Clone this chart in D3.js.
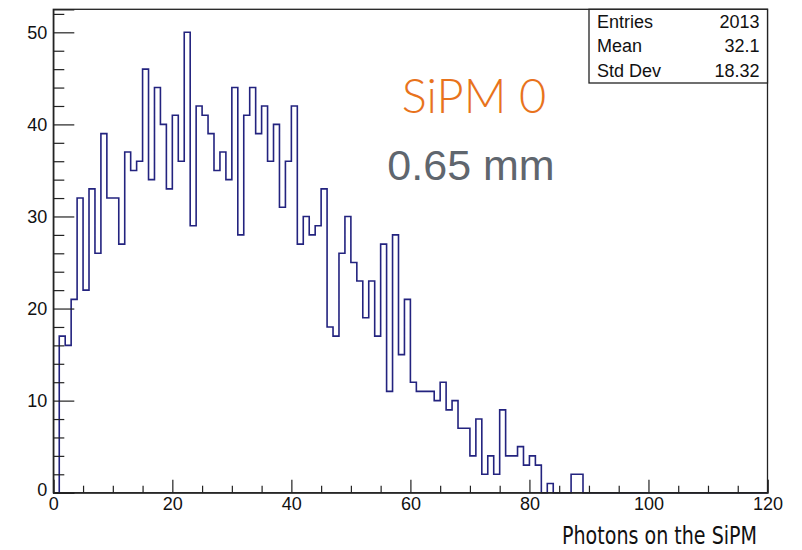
<!DOCTYPE html>
<html>
<head>
<meta charset="utf-8">
<script src="https://cdn.jsdelivr.net/npm/d3@7"></script>
<style>
  body { margin: 0; background: #fff; }
  svg { display: block; }
</style>
</head>
<body>
<script>
// bin contents, one per unit bin starting at 0
const counts = [0,
  17, 16, 21, 32, 22, 33, 26, 39, 32, 32,
  27, 37, 35, 36, 46, 34, 44, 40, 33, 41,
  36, 50, 29, 42, 41, 39, 35, 37, 34, 44,
  28, 41, 44, 39, 42, 36, 40, 31, 36, 42,
  27, 30, 28, 29, 33, 18, 17, 26, 30, 25,
  23, 19, 23, 17, 27, 11, 28, 15, 21, 12,
  11, 11, 11, 10, 12, 9, 10, 7, 7, 4,
  8, 2, 4, 2, 9, 4, 4, 5, 3, 4,
  3, 0, 1, 0, 0, 0, 2, 2];
const xTicks = [0, 20, 40, 60, 80, 100, 120];
const yTicks = [0, 10, 20, 30, 40, 50];
const statsLabels = ["Entries", "Mean", "Std Dev"];
const statsValues = ["2013", "32.1", "18.32"];

const w = 802;
const h = 550;
const padL = 53.3, padR = 767.5, padT = 9.3, padB = 492.7;

const svg = d3.select("body").append("svg").attr("width", w).attr("height", h);

const xScale = d3.scaleLinear().domain([0, 120]).range([padL, padR]);
const yScale = d3.scaleLinear().domain([0, 52.5]).range([padB, padT]);

// histogram outline
const pts = counts.map((c, i) => [i, c]);
pts.push([counts.length, 0]);
pts.push([120, 0]);
const line = d3.line()
  .x((d) => xScale(d[0]))
  .y((d) => yScale(d[1]))
  .curve(d3.curveStepAfter);

svg.append("path")
  .datum(pts)
  .attr("d", line)
  .attr("fill", "none")
  .attr("stroke", "#23237f")
  .attr("stroke-width", 1.6);

// frame
svg.append("rect")
  .attr("x", padL).attr("y", padT)
  .attr("width", padR - padL).attr("height", padB - padT)
  .attr("fill", "none").attr("stroke", "#222").attr("stroke-width", 1.3);

const font = "'Liberation Sans', Arial, sans-serif";

// x axis
const xMinor = d3.range(0, 121, 5).filter((v) => v % 20 !== 0);
svg.append("g")
  .attr("transform", `translate(0, ${padB})`)
  .call(d3.axisBottom(xScale).tickValues(xMinor).tickSize(-7).tickFormat(""))
  .call((g) => g.select(".domain").remove());
const xAxis = svg.append("g")
  .attr("id", "x-axis")
  .attr("transform", `translate(0, ${padB})`)
  .call(d3.axisBottom(xScale).tickValues(xTicks).tickSize(-13).tickPadding(5).tickFormat(d3.format("d")));
xAxis.select(".domain").attr("stroke", "#222").attr("stroke-width", 1.3);
xAxis.selectAll("text").style("font-family", font).style("font-size", "18px").attr("fill", "#111");

// y axis
const yMinor = d3.range(0, 53, 2).filter((v) => v % 10 !== 0);
svg.append("g")
  .attr("transform", `translate(${padL}, 0)`)
  .call(d3.axisLeft(yScale).tickValues(yMinor).tickSize(-11).tickFormat(""))
  .call((g) => g.select(".domain").remove());
const yAxis = svg.append("g")
  .attr("id", "y-axis")
  .attr("transform", `translate(${padL}, 0)`)
  .call(d3.axisLeft(yScale).tickValues(yTicks).tickSize(-21).tickPadding(6).tickFormat(d3.format("d")));
yAxis.select(".domain").attr("stroke", "#222").attr("stroke-width", 1.3);
yAxis.selectAll("text").style("font-family", font).style("font-size", "18px").attr("fill", "#111");
yAxis.selectAll(".tick").filter((d) => d === 0).select("text").attr("y", -3);

svg.selectAll(".tick line").attr("stroke", "#222").attr("stroke-width", 1.2);

// stats box
const sb = { x: 589, y: padT, w: padR - 589, h: 83 - padT };
svg.append("rect")
  .attr("x", sb.x).attr("y", sb.y).attr("width", sb.w).attr("height", sb.h)
  .attr("fill", "#fff").attr("stroke", "#222").attr("stroke-width", 1.3);
statsLabels.forEach((lab, i) => {
  const yy = 28 + i * 24.4;
  svg.append("text").attr("x", sb.x + 8).attr("y", yy)
    .style("font-family", font).style("font-size", "18px").attr("fill", "#111")
    .text(lab);
  svg.append("text").attr("x", sb.x + sb.w - 8).attr("y", yy)
    .attr("text-anchor", "end")
    .style("font-family", font).style("font-size", "18px").attr("fill", "#111")
    .text(statsValues[i]);
});

// annotations
svg.append("text")
  .attr("x", 474).attr("y", 113)
  .attr("text-anchor", "middle")
  .style("font-family", "Lato, 'Open Sans', sans-serif")
  .style("font-weight", 300)
  .style("font-size", "47px")
  .attr("fill", "#e8731c")
  .text("SiPM 0");

svg.append("text")
  .attr("x", 471).attr("y", 180)
  .attr("text-anchor", "middle")
  .style("font-family", font)
  .style("font-size", "43px")
  .attr("fill", "#5f666e")
  .text("0.65 mm");

svg.append("text")
  .attr("x", 757).attr("y", 544)
  .attr("text-anchor", "end")
  .attr("textLength", 195)
  .attr("lengthAdjust", "spacingAndGlyphs")
  .style("font-family", "'Liberation Sans Narrow', 'DejaVu Sans Condensed', sans-serif")
  .style("font-size", "25px")
  .attr("fill", "#111")
  .text("Photons on the SiPM");
</script>
</body>
</html>
